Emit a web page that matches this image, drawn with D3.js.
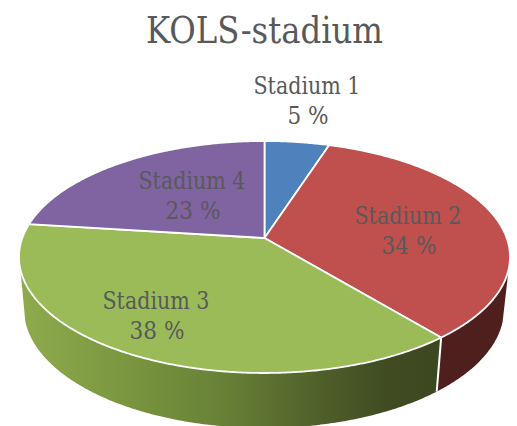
<!DOCTYPE html>
<html>
<head>
<meta charset="utf-8">
<script src="https://cdn.jsdelivr.net/npm/d3@7"></script>
<style>
  html, body { margin: 0; padding: 0; background: #fff; overflow: hidden; }
  svg { display: block; }
  text { font-family: "DejaVu Serif", serif; font-stretch: condensed; fill: #595959; text-anchor: middle; }
</style>
</head>
<body>
<div id="chart"></div>
<script>
const chartTitle = "KOLS-stadium";
const stages = ["Stadium 1", "Stadium 2", "Stadium 3", "Stadium 4"];
const shares = [5, 34, 38, 23];
const topColors = ["#4f81bd", "#c0504d", "#9bbb59", "#8064a2"];
const wallFills = ["#27405e", "#4e1f1d", "url(#greenWall)", "#403251"];

const width = 517, height = 426;

// Tilted disc: top face and the smaller, lower rim of the base
const topX = d3.scaleLinear([-1, 1], [19, 510]);
const topY = d3.scaleLinear([-1, 1], [141, 373]);
const baseX = d3.scaleLinear([-1, 1], [24, 504]);
const baseY = d3.scaleLinear([-1, 1], [190, 428]);

// The hub sits above the ellipse centre because of the perspective
const hubOffset = -topY.invert(238);
const wallStart = 0.1;

// Perspective map of a clockwise angle from 12 o'clock onto the unit ellipse
function project(angle) {
  const c = Math.cos(angle), s = Math.sin(angle);
  const denom = 1 + hubOffset * c;
  return {
    x: s * Math.sqrt(1 - hubOffset * hubOffset) / denom,
    y: (-c - hubOffset) / denom
  };
}

const pie = d3.pie().sort(null).value(d => d);
const arcs = pie(shares);

function samples(a0, a1) {
  const n = Math.max(2, Math.ceil((a1 - a0) / (Math.PI / 360)));
  return d3.range(n + 1).map(i => project(a0 + (a1 - a0) * i / n));
}

const line = d3.line().x(d => d[0]).y(d => d[1]);

const svg = d3.select("#chart").append("svg")
  .attr("width", width).attr("height", height);

const grad = svg.append("defs").append("linearGradient")
  .attr("id", "greenWall")
  .attr("gradientUnits", "userSpaceOnUse")
  .attr("x1", baseX(-1)).attr("x2", baseX(0.72))
  .attr("y1", 0).attr("y2", 0);
[[0, "#8dab4c"], [0.25, "#7a963f"], [0.5, "#667f36"], [0.72, "#4f5f2a"], [0.88, "#404b22"], [1, "#3e4820"]]
  .forEach(([o, c]) => grad.append("stop").attr("offset", o).attr("stop-color", c));

// Side walls: only the part of each slice's rim that faces the viewer
arcs.forEach((a, i) => {
  const rim = samples(a.startAngle, a.endAngle).filter(p => p.y >= wallStart);
  if (rim.length < 2) return;
  const top = rim.map(p => [topX(p.x), topY(p.y)]);
  const base = rim.map(p => [baseX(p.x), baseY(p.y)]).reverse();
  svg.append("path")
    .attr("d", line(top.concat(base)) + "Z")
    .attr("fill", wallFills[i]);
});

// White seam on the wall where the second and third slices meet
const seam = project(arcs[1].endAngle);
svg.append("path")
  .attr("d", line([[topX(seam.x), topY(seam.y)], [baseX(seam.x), baseY(seam.y)]]))
  .attr("stroke", "#fff").attr("stroke-width", 2).attr("fill", "none");

// Top face slices
arcs.forEach((a, i) => {
  const rim = samples(a.startAngle, a.endAngle).map(p => [topX(p.x), topY(p.y)]);
  svg.append("path")
    .attr("d", line([[topX(0), topY(-hubOffset)]].concat(rim)) + "Z")
    .attr("fill", topColors[i])
    .attr("stroke", "#fff")
    .attr("stroke-width", 1.8)
    .attr("stroke-linejoin", "round");
});

svg.append("text")
  .attr("x", 264.5).attr("y", 43)
  .attr("font-size", 37)
  .attr("textLength", 237)
  .attr("lengthAdjust", "spacingAndGlyphs")
  .text(chartTitle);

// Label anchors, one per slice: centre x, first baseline y
const labelAnchors = [[307, 94], [408, 224], [156, 309], [192, 189]];
const labelSize = 24;
const labelWidth = 107;
stages.forEach((name, i) => {
  const [x, y] = labelAnchors[i];
  svg.append("text").attr("x", x).attr("y", y)
    .attr("font-size", labelSize)
    .attr("textLength", labelWidth)
    .attr("lengthAdjust", "spacingAndGlyphs")
    .text(name);
  svg.append("text").attr("x", x + 1).attr("y", y + 30)
    .attr("font-size", labelSize).text(shares[i] + " %");
});
</script>
</body>
</html>
